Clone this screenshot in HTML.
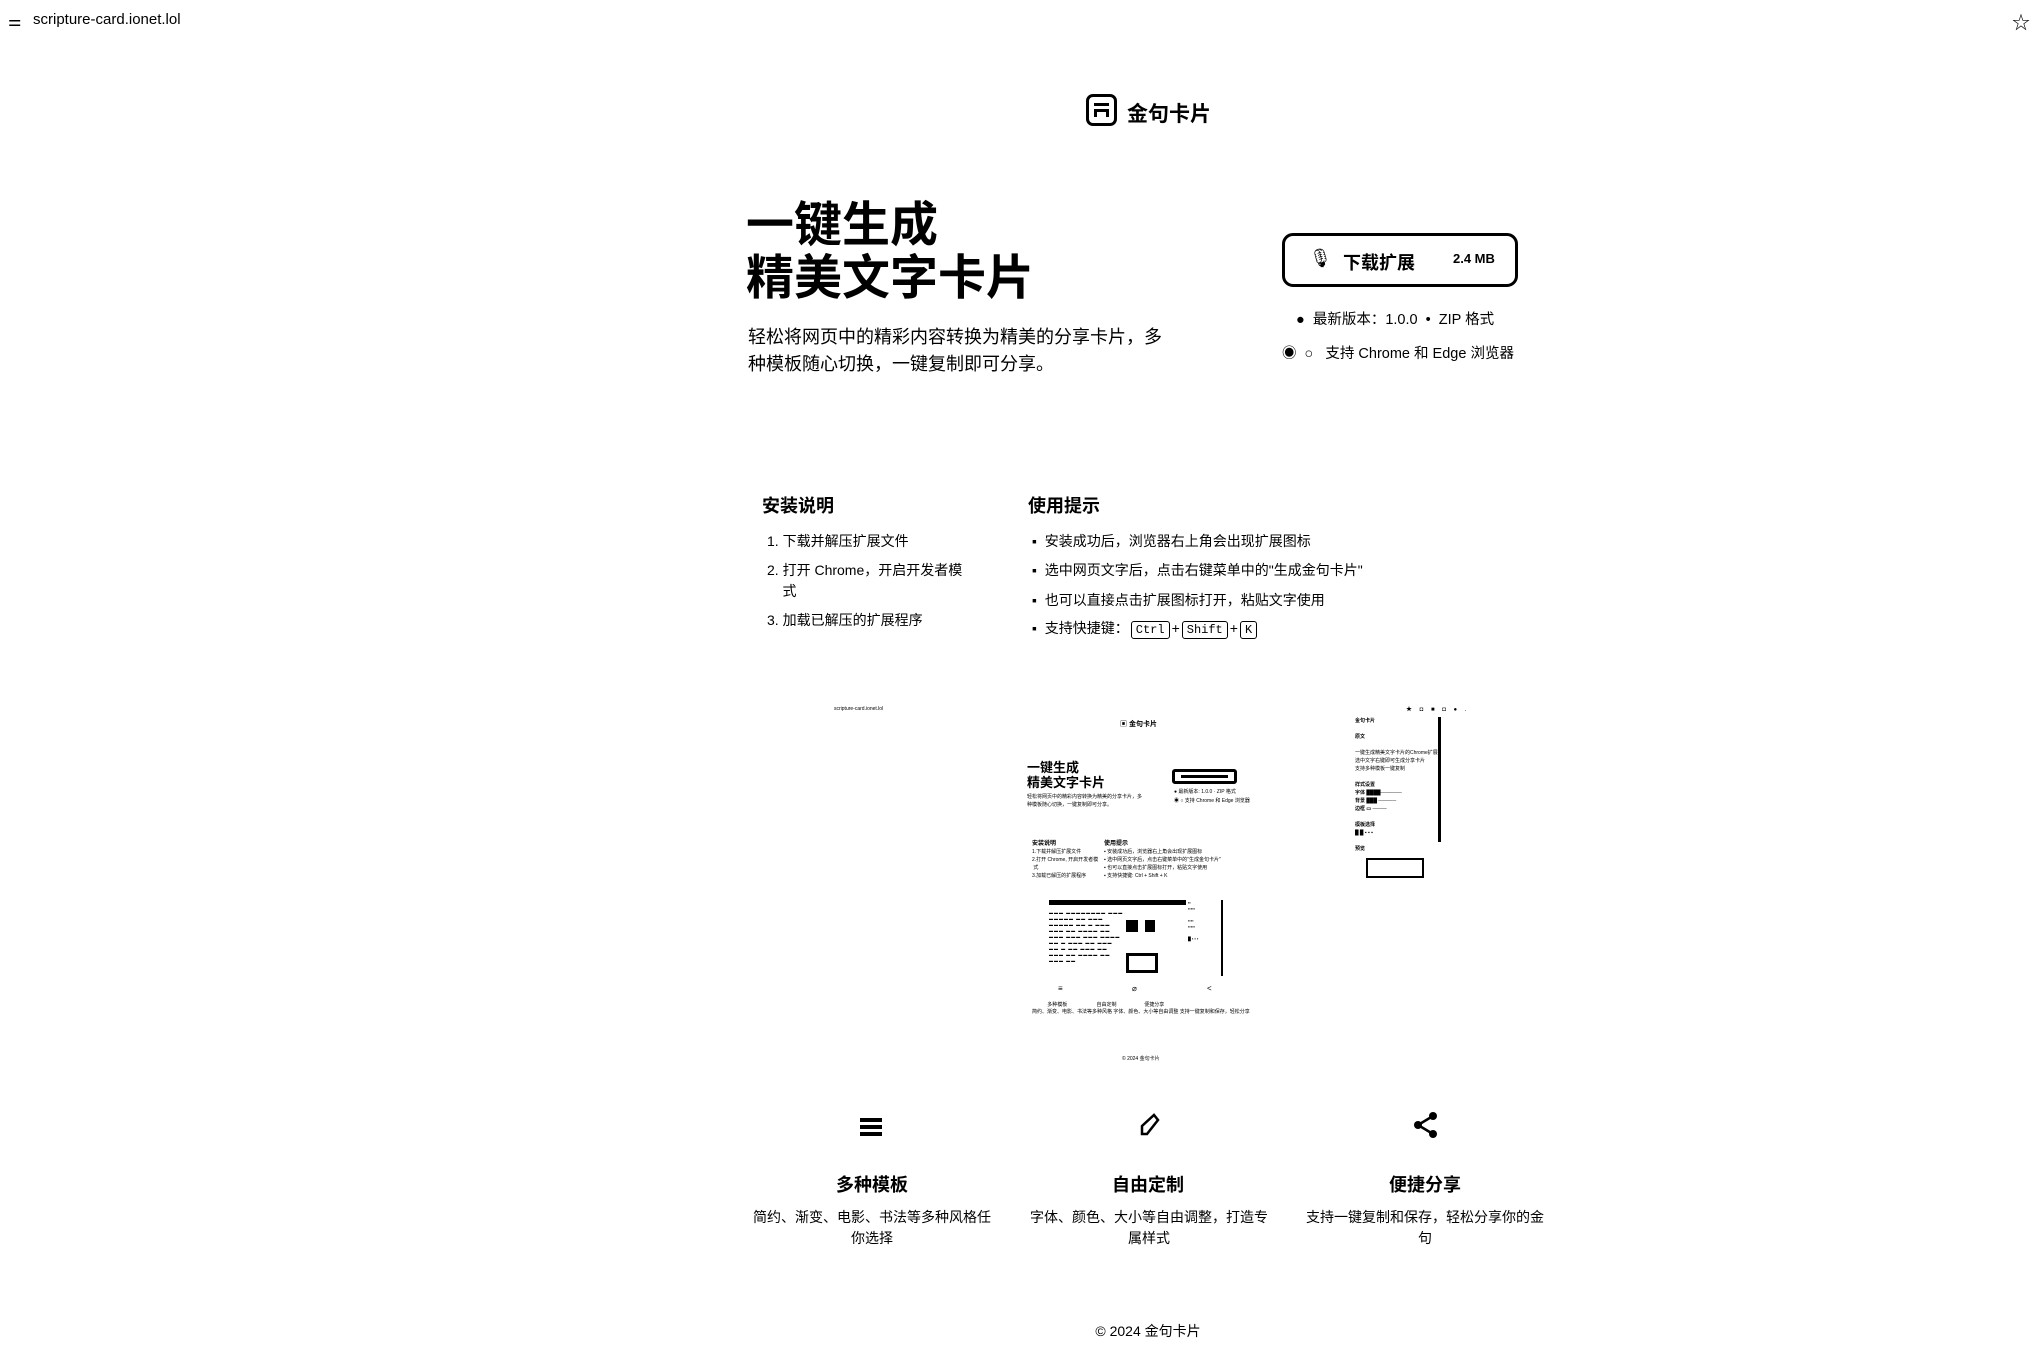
<!DOCTYPE html>
<html><head><meta charset="utf-8"><style>
*{margin:0;padding:0;box-sizing:border-box}
body{width:2034px;height:1349px;background:#fff;position:relative;overflow:hidden;font-family:"Liberation Sans","Noto Sans CJK SC",sans-serif;color:#000}
.a{position:absolute;white-space:nowrap}
.b{font-weight:bold}
.kbd{display:inline-block;border:1px solid #000;border-radius:3px;font-family:"Liberation Mono",monospace;font-size:12px;padding:0 4px;line-height:16px;margin:0 2px}
.mini{position:absolute;background:#000}
</style></head><body>
<div class="a" style="left:8px;top:12px;font-size:15px">⚌</div>
<div class="a" style="left:33px;top:11px;font-size:15px">scripture-card.ionet.lol</div>
<div class="a" style="left:2012px;top:9px;font-size:18px">☆</div>

<div class="a" style="left:1086px;top:94px;width:31px;height:32px;border:3px solid #000;border-radius:7px">
 <div style="position:absolute;left:5px;top:6px;width:15px;height:3px;background:#000"></div>
 <div style="position:absolute;left:5px;top:12px;width:15px;height:8px;border:3px solid #000;border-bottom:none"></div>
</div>
<div class="a b" style="left:1127px;top:98px;font-size:21px">金句卡片</div>

<div class="a b" style="left:746px;top:199px;font-size:48px;line-height:53px">一键生成<br>精美文字卡片</div>
<div class="a" style="left:748px;top:324px;font-size:18px;line-height:27px">轻松将网页中的精彩内容转换为精美的分享卡片，多<br>种模板随心切换，一键复制即可分享。</div>

<div class="a" style="left:1282px;top:233px;width:236px;height:54px;border:3px solid #000;border-radius:11px">
 <div class="a" style="left:24px;top:12px;font-size:18px">🎙</div>
 <div class="a b" style="left:58px;top:13px;font-size:18px">下载扩展</div>
 <div class="a b" style="left:168px;top:15px;font-size:13px">2.4 MB</div>
</div>
<div class="a" style="left:1296px;top:308px;font-size:14.5px">●&nbsp;&nbsp;最新版本：1.0.0 &nbsp;•&nbsp; ZIP 格式</div>
<div class="a" style="left:1282px;top:342px;font-size:14.5px">◉&nbsp;&nbsp;○&nbsp;&nbsp;&nbsp;支持 Chrome 和 Edge 浏览器</div>

<div class="a b" style="left:762px;top:492px;font-size:18px">安装说明</div>
<div class="a" style="left:767px;top:531px;font-size:14px;line-height:21px">1. 下载并解压扩展文件</div>
<div class="a" style="left:767px;top:560px;font-size:14px;line-height:21px">2. 打开 Chrome，开启开发者模<br>&nbsp;&nbsp;&nbsp;&nbsp;式</div>
<div class="a" style="left:767px;top:610px;font-size:14px;line-height:21px">3. 加载已解压的扩展程序</div>

<div class="a b" style="left:1028px;top:492px;font-size:18px">使用提示</div>
<div class="a" style="left:1032px;top:531px;font-size:14px">▪&nbsp;&nbsp;安装成功后，浏览器右上角会出现扩展图标</div>
<div class="a" style="left:1032px;top:560px;font-size:14px">▪&nbsp;&nbsp;选中网页文字后，点击右键菜单中的"生成金句卡片"</div>
<div class="a" style="left:1032px;top:590px;font-size:14px">▪&nbsp;&nbsp;也可以直接点击扩展图标打开，粘贴文字使用</div>
<div class="a" style="left:1032px;top:618px;font-size:14px">▪&nbsp;&nbsp;支持快捷键：<span class="kbd">Ctrl</span>+<span class="kbd">Shift</span>+<span class="kbd">K</span></div>

<!-- mini screenshot -->
<div class="a" style="left:834px;top:706px;font-size:5px">scripture-card.ionet.lol</div>
<div class="a b" style="left:1120px;top:719px;font-size:7px">▣ 金句卡片</div>
<div class="a b" style="left:1027px;top:760px;font-size:13px;line-height:15px">一键生成<br>精美文字卡片</div>
<div class="a" style="left:1027px;top:793px;font-size:5px;line-height:8px">轻松将网页中的精彩内容转换为精美的分享卡片，多<br>种模板随心切换，一键复制即可分享。</div>
<div class="a" style="left:1172px;top:769px;width:65px;height:15px;border:3px solid #000;border-radius:3px"><div style="margin:3px 6px;height:3px;background:#000"></div></div>
<div class="a" style="left:1174px;top:788px;font-size:5px;line-height:9px">● 最新版本: 1.0.0 · ZIP 格式<br>◉ ○ 支持 Chrome 和 Edge 浏览器</div>
<div class="a b" style="left:1032px;top:838px;font-size:6px">安装说明</div>
<div class="a" style="left:1032px;top:848px;font-size:5px;line-height:8px">1.下载并解压扩展文件<br>2.打开 Chrome, 开启开发者模<br>&nbsp;式<br>3.加载已解压的扩展程序</div>
<div class="a b" style="left:1104px;top:838px;font-size:6px">使用提示</div>
<div class="a" style="left:1104px;top:848px;font-size:5px;line-height:8px">▪ 安装成功后，浏览器右上角会出现扩展图标<br>▪ 选中网页文字后，点击右键菜单中的"生成金句卡片"<br>▪ 也可以直接点击扩展图标打开，粘贴文字使用<br>▪ 支持快捷键: Ctrl + Shift + K</div>
<div class="mini" style="left:1049px;top:900px;width:137px;height:5px"></div>
<div class="a" style="left:1049px;top:910px;font-size:4px;line-height:6px;width:75px;white-space:normal;overflow:hidden;height:64px;letter-spacing:1px">▬▬▬ ▬▬▬▬▬▬▬▬ ▬▬▬ ▬▬▬▬▬ ▬▬ ▬▬▬ ▬▬▬▬▬ ▬▬ ▬ ▬▬▬ ▬▬▬ ▬▬ ▬▬▬▬ ▬▬ ▬▬▬ ▬▬▬ ▬▬▬ ▬▬▬▬ ▬▬ ▬ ▬▬▬ ▬▬ ▬▬▬ ▬▬ ▬ ▬▬ ▬▬▬ ▬▬ ▬▬▬ ▬▬ ▬▬▬▬ ▬▬ ▬▬▬ ▬▬</div>
<div class="mini" style="left:1126px;top:920px;width:12px;height:12px"></div>
<div class="mini" style="left:1145px;top:920px;width:10px;height:12px"></div>
<div class="a" style="left:1126px;top:953px;width:32px;height:20px;border:3px solid #000"></div>
<div class="a" style="left:1188px;top:900px;width:35px;height:76px;border-right:2px solid #000;font-size:4px;line-height:6px">▪▪<br>▪▪▪▪▪<br><br>▪▪▪▪<br>▪▪▪▪▪<br><br>█ ▪ ▪ ▪</div>
<div class="a" style="left:1058px;top:984px;font-size:8px">≡</div>
<div class="a" style="left:1132px;top:984px;font-size:8px">⌀</div>
<div class="a" style="left:1207px;top:984px;font-size:8px">&lt;</div>
<div class="a" style="left:1032px;top:1002px;font-size:5px;line-height:7px">&nbsp;&nbsp;&nbsp;&nbsp;&nbsp;&nbsp;&nbsp;&nbsp;&nbsp;&nbsp;&nbsp;多种模板&nbsp;&nbsp;&nbsp;&nbsp;&nbsp;&nbsp;&nbsp;&nbsp;&nbsp;&nbsp;&nbsp;&nbsp;&nbsp;&nbsp;&nbsp;&nbsp;&nbsp;&nbsp;&nbsp;&nbsp;&nbsp;自由定制&nbsp;&nbsp;&nbsp;&nbsp;&nbsp;&nbsp;&nbsp;&nbsp;&nbsp;&nbsp;&nbsp;&nbsp;&nbsp;&nbsp;&nbsp;&nbsp;&nbsp;&nbsp;&nbsp;&nbsp;便捷分享<br>简约、渐变、电影、书法等多种风格 字体、颜色、大小等自由调整 支持一键复制和保存，轻松分享</div>
<div class="a" style="left:1122px;top:1055px;font-size:5px">© 2024 金句卡片</div>
<div class="a" style="left:1406px;top:704px;font-size:6px;letter-spacing:3px">★ ◘ ■ ◘ ● .</div>
<div class="a b" style="left:1355px;top:717px;font-size:5px;line-height:8px">金句卡片<br><br>原文<br><br><span style="font-weight:normal">一键生成精美文字卡片的Chrome扩展<br>选中文字右键即可生成分享卡片<br>支持多种模板一键复制</span><br><br>样式设置<br>字体 ████──────<br>背景 ███ ─────<br>边框 ▭ ────<br><br>模板选择<br>█ █ ▪ ▪ ▪<br><br>预览</div>
<div class="mini" style="left:1438px;top:717px;width:3px;height:125px"></div>
<div class="a" style="left:1366px;top:858px;width:58px;height:20px;border:2px solid #000"></div>

<!-- features -->
<div class="a" style="left:860px;top:1118px;width:22px;height:18px">
 <div style="height:4px;background:#000;margin-bottom:3px"></div><div style="height:4px;background:#000;margin-bottom:3px"></div><div style="height:4px;background:#000"></div>
</div>
<svg class="a" style="left:1136px;top:1112px" width="28" height="28" viewBox="0 0 28 28"><path d="M6 22 L6 14 L18 3 L22 8 L11 22 Z" fill="none" stroke="#000" stroke-width="2.5"/></svg>
<svg class="a" style="left:1413px;top:1111px" width="26" height="28" viewBox="0 0 26 28"><circle cx="20" cy="5" r="4"/><circle cx="5" cy="14" r="4"/><circle cx="20" cy="23" r="4"/><path d="M20 5 L5 14 L20 23" stroke="#000" stroke-width="2.5" fill="none"/></svg>

<div class="a b" style="left:772px;top:1171px;width:200px;text-align:center;font-size:18px">多种模板</div>
<div class="a b" style="left:1048px;top:1171px;width:200px;text-align:center;font-size:18px">自由定制</div>
<div class="a b" style="left:1325px;top:1171px;width:200px;text-align:center;font-size:18px">便捷分享</div>
<div class="a" style="left:747px;top:1207px;width:250px;text-align:center;white-space:normal;font-size:14px;line-height:21px">简约、渐变、电影、书法等多种风格任你选择</div>
<div class="a" style="left:1024px;top:1207px;width:250px;text-align:center;white-space:normal;font-size:14px;line-height:21px">字体、颜色、大小等自由调整，打造专属样式</div>
<div class="a" style="left:1300px;top:1207px;width:250px;text-align:center;white-space:normal;font-size:14px;line-height:21px">支持一键复制和保存，轻松分享你的金句</div>

<div class="a" style="left:1048px;top:1321px;width:200px;text-align:center;font-size:14px">© 2024 金句卡片</div>
</body></html>
